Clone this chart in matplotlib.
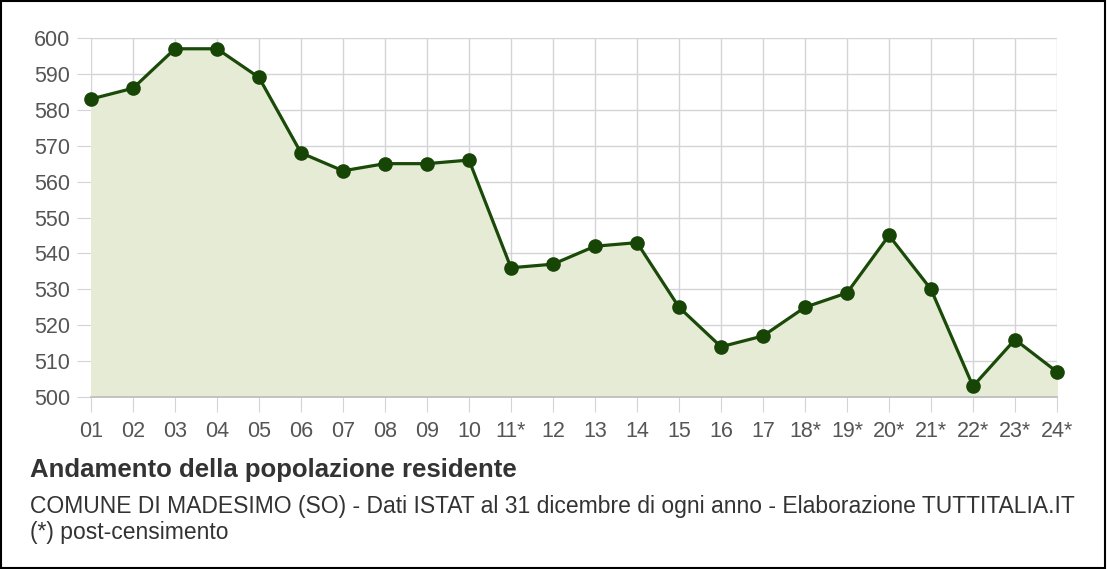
import numpy as np
import matplotlib.pyplot as plt
from matplotlib.patches import Rectangle

plt.rcParams['font.family'] = ['Liberation Sans', 'DejaVu Sans']

anni = ['01', '02', '03', '04', '05', '06', '07', '08', '09', '10', '11*', '12',
        '13', '14', '15', '16', '17', '18*', '19*', '20*', '21*', '22*', '23*', '24*']
popolazione = [583, 586, 597, 597, 589, 568, 563, 565, 565, 566, 536, 537,
               542, 543, 525, 514, 517, 525, 529, 545, 530, 503, 516, 507]
y_ticks = [500, 510, 520, 530, 540, 550, 560, 570, 580, 590, 600]

fig = plt.figure(figsize=(11.07, 5.69), dpi=100)
ax = fig.add_axes([91/1107, 1 - 397/569, (1057-91)/1107, (397-38)/569])

x = np.arange(len(anni))
ax.fill_between(x, popolazione, 500, color='#e6ebd6', zorder=1)
ax.plot(x, popolazione, color='#1a4a08', lw=2.3, marker='o', ms=9.5,
        markerfacecolor='#174505', markeredgecolor='#174505', zorder=3, clip_on=False)

ax.set_xlim(0, len(anni) - 1)
ax.set_ylim(500, 600)
ax.set_xticks(x)
ax.set_xticklabels(anni)
ax.set_yticks(y_ticks)
ax.grid(True, color='#d4d4d8', lw=1, zorder=0)
ax.set_axisbelow(True)
ax.axhline(500, color='#bdbdbd', lw=1.2, zorder=2, clip_on=False)
for s in ax.spines.values():
    s.set_visible(False)
ax.tick_params(axis='x', length=10.5, color='#d4d4d8', labelsize=15.5, labelcolor='#555555', pad=7)
ax.tick_params(axis='y', length=10, color='#d4d4d8', labelsize=15.5, labelcolor='#555555', pad=5)

fig.text(30/1107, 1 - 470/569, 'Andamento della popolazione residente', fontsize=18.5,
         fontweight='bold', color='#333333', va='center')
fig.text(30/1107, 1 - 507/569,
         'COMUNE DI MADESIMO (SO) - Dati ISTAT al 31 dicembre di ogni anno - Elaborazione TUTTITALIA.IT',
         fontsize=16.5, color='#333333', va='center')
fig.text(30/1107, 1 - 533/569, '(*) post-censimento', fontsize=16.5, color='#333333', va='center')

fig.patches.append(Rectangle((0.001, 0.002), 0.997, 0.996, transform=fig.transFigure,
                             fill=False, edgecolor='black', lw=1.5))

fig.savefig('out.png', dpi=100)
